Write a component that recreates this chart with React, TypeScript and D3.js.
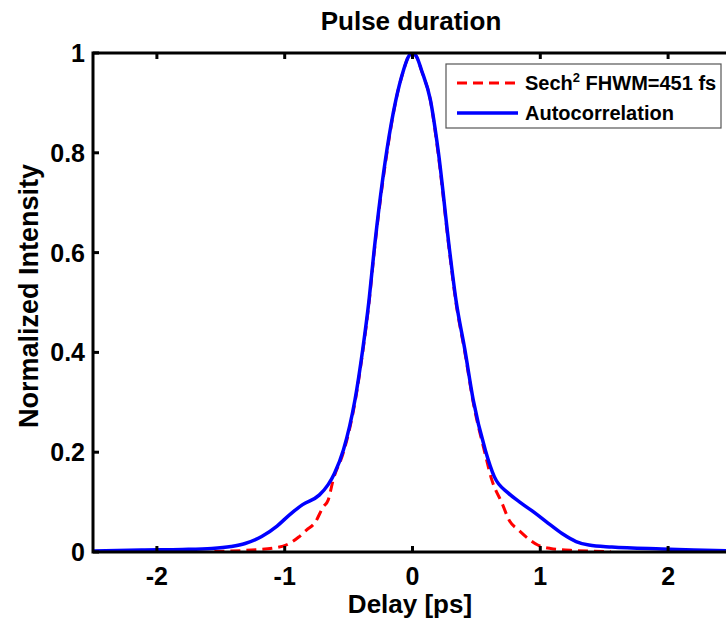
import React from 'react';
import * as d3 from 'd3';

// autocorrelation trace (blue)
const DELAY_AC = [-2.5, -2.12, -1.8, -1.57, -1.42, -1.31, -1.18, -1.06, -0.96, -0.86, -0.73, -0.66, -0.61, -0.54, -0.45, -0.39, -0.34, -0.3, -0.2, -0.13, -0.07, -0.035, 0, 0.035, 0.07, 0.14, 0.2, 0.29, 0.34, 0.41, 0.475, 0.57, 0.64, 0.75, 0.85, 0.96, 1.06, 1.17, 1.28, 1.38, 1.56, 1.95, 2.2, 2.5];
const AC = [0.002, 0.004, 0.005, 0.007, 0.011, 0.017, 0.031, 0.052, 0.075, 0.095, 0.114, 0.135, 0.158, 0.205, 0.305, 0.405, 0.505, 0.605, 0.806, 0.906, 0.966, 0.991, 1.0, 0.991, 0.966, 0.906, 0.806, 0.605, 0.505, 0.405, 0.305, 0.204, 0.151, 0.118, 0.098, 0.078, 0.058, 0.037, 0.021, 0.014, 0.01, 0.006, 0.004, 0.002];

// sech^2 fit (red dashed)
const DELAY_FIT = [-1.55, -1.26, -1.08, -0.98, -0.89, -0.83, -0.76, -0.7, -0.66, -0.62, -0.54, -0.45, -0.39, -0.34, -0.3, -0.2, -0.13, -0.07, -0.035, 0, 0.035, 0.07, 0.14, 0.2, 0.29, 0.34, 0.41, 0.475, 0.565, 0.62, 0.7, 0.76, 0.83, 0.9, 0.98, 1.08, 1.26, 1.55];
const FIT = [0.001, 0.004, 0.008, 0.015, 0.03, 0.044, 0.06, 0.09, 0.104, 0.145, 0.2, 0.3, 0.4, 0.5, 0.6, 0.8, 0.905, 0.965, 0.991, 1.0, 0.991, 0.965, 0.905, 0.8, 0.6, 0.5, 0.4, 0.3, 0.2, 0.145, 0.098, 0.062, 0.044, 0.028, 0.014, 0.007, 0.003, 0.001];

const X_TICKS = [-2, -1, 0, 1, 2];
const Y_TICKS = [0, 0.2, 0.4, 0.6, 0.8, 1];

const W = 726;
const H = 623;
const LEFT = 93;
const RIGHT = 732;
const TOP = 53;
const BOTTOM = 552;
const TICK = 6;
const FONT = '"Liberation Sans", Arial, sans-serif';

const App = () => {
  const x = d3.scaleLinear().domain([-2.5, 2.5]).range([LEFT, RIGHT]);
  const y = d3.scaleLinear().domain([0, 1]).range([BOTTOM, TOP]);

  const line = d3.line<[number, number]>()
    .x(d => x(d[0]))
    .y(d => y(d[1]))
    .curve(d3.curveMonotoneX);

  const acPath = line(DELAY_AC.map((d, i) => [d, AC[i]] as [number, number])) || '';
  const fitPath = line(DELAY_FIT.map((d, i) => [d, FIT[i]] as [number, number])) || '';

  return (
    <div style={{ position: 'absolute', left: 0, top: 0 }}>
      <svg width={W} height={H} style={{ display: 'block', background: '#fff' }} fontFamily={FONT} fontWeight="bold">
        <defs>
          <clipPath id="plot">
            <rect x={LEFT} y={TOP} width={RIGHT - LEFT} height={BOTTOM - TOP} />
          </clipPath>
        </defs>

        <g clipPath="url(#plot)">
          <path d={fitPath} fill="none" stroke="#ff0000" strokeWidth={3} strokeDasharray="10,6" />
          <path d={acPath} fill="none" stroke="#0000ff" strokeWidth={3.5} strokeLinejoin="round" />
        </g>

        {/* box and inward ticks */}
        <rect x={LEFT} y={TOP} width={RIGHT - LEFT} height={BOTTOM - TOP} fill="none" stroke="#000" strokeWidth={3} />
        {X_TICKS.map(t => (
          <g key={`xt${t}`} stroke="#000" strokeWidth={3}>
            <line x1={x(t)} x2={x(t)} y1={BOTTOM} y2={BOTTOM - TICK} />
            <line x1={x(t)} x2={x(t)} y1={TOP} y2={TOP + TICK} />
          </g>
        ))}
        {Y_TICKS.map(t => (
          <g key={`yt${t}`} stroke="#000" strokeWidth={3}>
            <line x1={LEFT} x2={LEFT + TICK} y1={y(t)} y2={y(t)} />
            <line x1={RIGHT} x2={RIGHT - TICK} y1={y(t)} y2={y(t)} />
          </g>
        ))}

        {X_TICKS.map(t => (
          <text key={`xl${t}`} x={x(t)} y={585} fontSize={25} textAnchor="middle">{String(t)}</text>
        ))}
        {Y_TICKS.map(t => (
          <text key={`yl${t}`} x={85} y={y(t)} dy="0.36em" fontSize={25} textAnchor="end">{String(t)}</text>
        ))}

        <text x={411} y={30} fontSize={26} textAnchor="middle">Pulse duration</text>
        <text x={410} y={613} fontSize={26} textAnchor="middle">Delay [ps]</text>
        <text transform="translate(38,296) rotate(-90)" fontSize={27} textAnchor="middle">Normalized Intensity</text>

        {/* legend */}
        <g>
          <rect x={446} y={64} width={275} height={64} fill="#fff" stroke="#555" strokeWidth={1.2} />
          <line x1={457} x2={518} y1={83} y2={83} stroke="#ff0000" strokeWidth={3} strokeDasharray="10,6" />
          <line x1={457} x2={518} y1={113} y2={113} stroke="#0000ff" strokeWidth={3.5} />
          <text x={525} y={90} fontSize={20}>
            Sech<tspan fontSize={13} dy={-8}>2</tspan><tspan dy={8}> FHWM=451 fs</tspan>
          </text>
          <text x={525} y={120} fontSize={20}>Autocorrelation</text>
        </g>
      </svg>
    </div>
  );
};

export default App;
